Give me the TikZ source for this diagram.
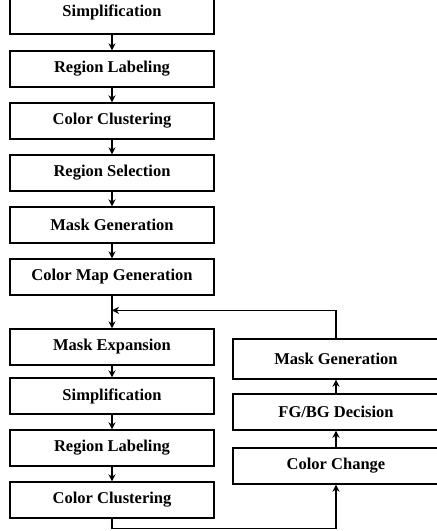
\documentclass[tikz,border=0pt]{standalone}
\usepackage{fontspec}
\setmainfont{Liberation Serif}
\usetikzlibrary{calc,arrows.meta}

\tikzstyle{process} = [rectangle, draw, line width=1.4pt, minimum width=204pt, minimum height=36pt, text centered, font=\fontsize{16.5}{19}\selectfont\bfseries]
\tikzstyle{arrow} = [line width=1.5pt,->,>={Stealth[length=7pt,width=7pt]}]

\begin{document}
\begin{tikzpicture}[x=1pt,y=1pt,node distance=52pt]
\useasboundingbox (0,0) rectangle (437,-531);
\clip (0,0) rectangle (437,-531);

% first pass
\node (simpA) [process, minimum height=44pt] at (112,-12) {Simplification};
\node (regA) [process, below of=simpA, node distance=57pt] {Region Labeling};
\node (clusA) [process, below of=regA] {Color Clustering};
\node (sel) [process, below of=clusA] {Region Selection};
\node (maskA) [process, below of=sel] {Mask Generation};
\node (cmap) [process, below of=maskA] {Color Map Generation};

% second pass
\node (mexp) [process, below of=cmap, node distance=70pt] {Mask Expansion};
\node (simpB) [process, below of=mexp, node distance=49pt] {Simplification};
\node (regB) [process, below of=simpB] {Region Labeling};
\node (clusB) [process, below of=regB] {Color Clustering};

% right column
\node (chg) [process, minimum width=206pt] at (336,-466) {Color Change};
\node (fgbg) [process, minimum width=206pt, above of=chg, node distance=54pt] {FG/BG Decision};
\node (maskB) [process, minimum width=206pt, minimum height=40pt, above of=fgbg, node distance=53pt] {Mask Generation};

\coordinate (fb) at ($(cmap.south)!0.45!(mexp.north)$);
\coordinate (bot) at ($(clusB.south)+(0,-10)$);

\draw [arrow] (simpA) -- (regA);
\draw [arrow] (regA) -- (clusA);
\draw [arrow] (clusA) -- (sel);
\draw [arrow] (sel) -- (maskA);
\draw [arrow] (maskA) -- (cmap);
\draw [arrow] (cmap) -- (mexp);
\draw [arrow] (mexp) -- (simpB);
\draw [arrow] (simpB) -- (regB);
\draw [arrow] (regB) -- (clusB);
\draw [arrow] (chg) -- (fgbg);
\draw [arrow] (fgbg) -- (maskB);
\draw [arrow] (clusB.south) -- (bot) -| (chg.south);
\draw [arrow] (maskB.north) |- (fb);
\end{tikzpicture}
\end{document}
